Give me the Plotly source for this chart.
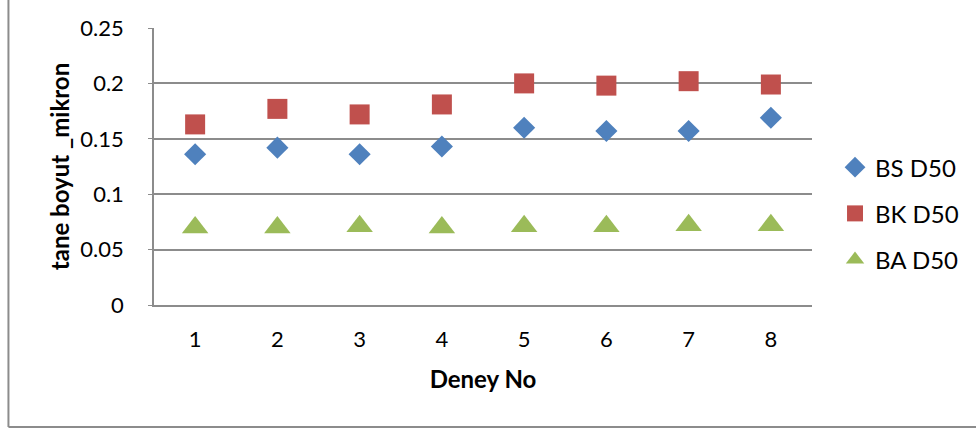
import plotly.graph_objects as go

deney_no = [1, 2, 3, 4, 5, 6, 7, 8]
bs_d50 = [0.136, 0.142, 0.136, 0.143, 0.160, 0.157, 0.157, 0.169]
bk_d50 = [0.163, 0.177, 0.172, 0.181, 0.200, 0.198, 0.202, 0.199]
ba_d50 = [0.070, 0.070, 0.071, 0.070, 0.071, 0.071, 0.072, 0.072]
y_ticks = [0, 0.05, 0.1, 0.15, 0.2, 0.25]
y_tick_text = ["0", "0.05", "0.1", "0.15", "0.2", "0.25"]

FONT = "Lato, Open Sans, sans-serif"
GRID = "#8c8c8c"

fig = go.Figure()
series = [
    ("BS D50", bs_d50, "diamond", "#4F81BD", 17),
    ("BK D50", bk_d50, "square", "#C0504D", 20),
    ("BA D50", ba_d50, "triangle-up", "#9BBB59", 23),
]
for name, vals, sym, col, size in series:
    fig.add_trace(go.Scatter(
        x=deney_no, y=vals, mode="markers", name=name, legendgroup=name,
        marker=dict(symbol=sym, color=col, size=size, line=dict(width=0)),
    ))

fig.update_layout(
    width=976, height=432,
    margin=dict(l=154, r=162, t=28, b=127),
    paper_bgcolor="white", plot_bgcolor="white",
    font=dict(family=FONT, size=22, color="black"),
    showlegend=True,
    legend=dict(x=1.035, y=0.33, xanchor="left", yanchor="middle",
                font=dict(size=24), tracegroupgap=12, itemsizing="trace"),
    xaxis=dict(range=[0.5, 8.5], tickvals=deney_no, ticktext=[str(v) for v in deney_no],
               showgrid=False, zeroline=False, showline=True, linecolor=GRID, linewidth=1.5,
               ticks="", ticklabelstandoff=14,
               title=dict(text="<b>Deney No</b>", font=dict(size=24), standoff=20)),
    yaxis=dict(range=[0, 0.25], tickvals=y_ticks, ticktext=y_tick_text,
               showgrid=True, gridcolor=GRID, gridwidth=1.5, zeroline=False,
               showline=True, linecolor=GRID, linewidth=1.5, ticks="outside", ticklen=4,
               tickcolor=GRID, ticklabelstandoff=20,
               title=dict(text="<b>tane boyut _mikron</b>", font=dict(size=24), standoff=4)),
)

# outer chart frame (left and bottom edges visible)
fig.add_shape(type="line", xref="paper", yref="paper",
              x0=(8 - 154) / 660, x1=(8 - 154) / 660, y0=(305 - 427) / 277, y1=1.2,
              line=dict(color="#8c8c8c", width=2))
fig.add_shape(type="line", xref="paper", yref="paper",
              x0=(8 - 154) / 660, x1=1.3, y0=(305 - 427) / 277, y1=(305 - 427) / 277,
              line=dict(color="#8c8c8c", width=2))

fig.write_html("out.html")
